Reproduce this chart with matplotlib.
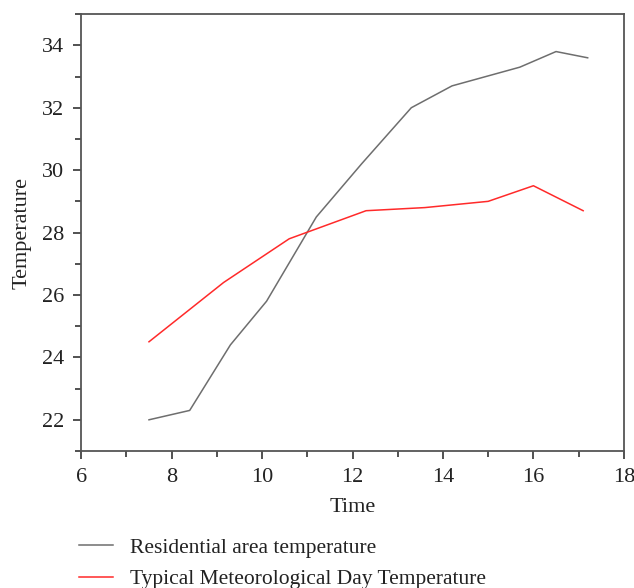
import matplotlib.pyplot as plt
from matplotlib.ticker import MultipleLocator

plt.rcParams['font.family'] = ['Liberation Serif', 'DejaVu Serif']

## Residential area temperature (gray line)
res_time = [7.5, 8.4, 9.3, 10.1, 11.2, 12.2, 13.3, 14.2, 15.7, 16.5, 17.2]
res_temp = [22.0, 22.3, 24.4, 25.8, 28.5, 30.2, 32.0, 32.7, 33.3, 33.8, 33.6]

## Typical meteorological day temperature (red line)
tmd_time = [7.5, 9.15, 10.6, 12.3, 13.6, 15.0, 16.0, 17.1]
tmd_temp = [24.5, 26.4, 27.8, 28.7, 28.8, 29.0, 29.5, 28.7]

labels = ['Residential area temperature', 'Typical Meteorological Day Temperature']

fig = plt.figure(figsize=(6.34, 5.88), dpi=100)
ax = fig.add_axes([0.128, 0.233, 0.856, 0.743])

ax.plot(res_time, res_temp, color='#6e6e6e', lw=1.1, label=labels[0])
ax.plot(tmd_time, tmd_temp, color='#ff2a2a', lw=1.1, label=labels[1])

ax.set_xlim(6, 18)
ax.set_ylim(21, 35)
ax.xaxis.set_major_locator(MultipleLocator(2))
ax.xaxis.set_minor_locator(MultipleLocator(1))
ax.yaxis.set_minor_locator(MultipleLocator(1))
ax.set_yticks([22, 24, 26, 28, 30, 32, 34])

for s in ax.spines.values():
    s.set_color('#555555')
    s.set_linewidth(1.3)
ax.tick_params(which='both', direction='out', color='#333333', width=1.2,
               labelsize=16, labelcolor='#222222', pad=6)
ax.tick_params(which='major', length=6)
ax.tick_params(which='minor', length=4)

ax.set_xlabel('Time', fontsize=16, color='#222222', labelpad=8)
ax.set_ylabel('Temperature', fontsize=16, color='#222222', labelpad=8)

## legend below the plot, no frame
fig.legend(loc='upper left', bbox_to_anchor=(0.125, 0.086), frameon=False,
           fontsize=15.5, handlelength=1.55, handletextpad=0.8, labelspacing=0.55,
           borderaxespad=0, borderpad=0, labelcolor='#222222')

plt.savefig('out.png', dpi=100)
